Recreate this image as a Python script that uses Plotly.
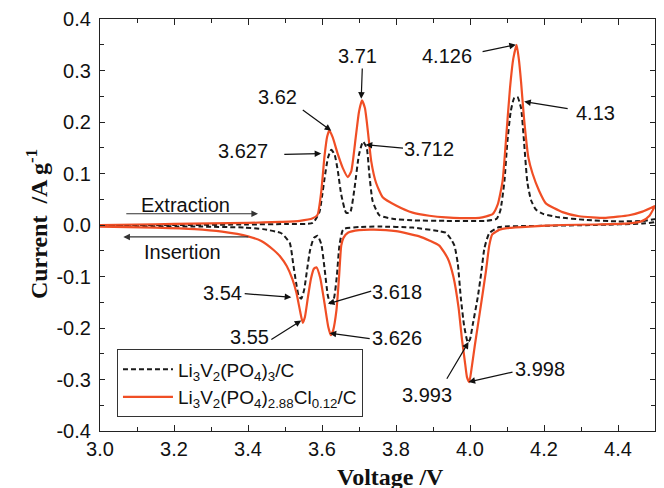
import plotly.graph_objects as go

# ---------------- data ----------------
# Li3V2(PO4)3/C  - anodic (forward) branch
lvp_up_v = [3.00, 3.20, 3.40, 3.50, 3.575, 3.593, 3.600, 3.607, 3.616, 3.625, 3.634, 3.643,
            3.652, 3.665, 3.676, 3.688, 3.700, 3.711, 3.721, 3.728, 3.737, 3.755, 3.791,
            3.850, 3.935, 4.043, 4.072, 4.082, 4.093, 4.101, 4.110, 4.119, 4.128, 4.138,
            4.146, 4.155, 4.165, 4.178, 4.196, 4.240, 4.310, 4.400, 4.470, 4.500]
lvp_up_i = [0.000, 0.000, 0.001, 0.002, 0.004, 0.025, 0.055, 0.091, 0.130, 0.146, 0.137, 0.104,
            0.059, 0.024, 0.024, 0.072, 0.137, 0.162, 0.149, 0.098, 0.046, 0.019, 0.012,
            0.009, 0.008, 0.008, 0.012, 0.028, 0.085, 0.162, 0.220, 0.246, 0.249, 0.227,
            0.162, 0.083, 0.048, 0.030, 0.022, 0.015, 0.010, 0.007, 0.008, 0.011]
# Li3V2(PO4)3/C  - cathodic (reverse) branch
lvp_dn_v = [4.500, 4.466, 4.340, 4.160, 4.079, 4.052, 4.039, 4.030, 4.021, 4.007, 4.000, 3.994,
            3.984, 3.975, 3.967, 3.958, 3.949, 3.935, 3.917, 3.845, 3.755, 3.700, 3.661,
            3.655, 3.647, 3.640, 3.632, 3.623, 3.616, 3.607, 3.598, 3.588, 3.578, 3.568,
            3.560, 3.552, 3.544, 3.537, 3.530, 3.522, 3.513, 3.490, 3.440, 3.390, 3.270, 3.000]
lvp_dn_i = [0.006, 0.003, 0.000, -0.002, -0.004, -0.016, -0.045, -0.095, -0.140, -0.195, -0.222, -0.228,
            -0.195, -0.140, -0.075, -0.040, -0.028, -0.015, -0.012, -0.005, -0.003, -0.004, -0.007,
            -0.012, -0.040, -0.100, -0.143, -0.152, -0.138, -0.085, -0.037, -0.021, -0.025, -0.048,
            -0.085, -0.125, -0.143, -0.138, -0.112, -0.075, -0.035, -0.016, -0.008, -0.005, -0.003, -0.002]

# Li3V2(PO4)2.88Cl0.12/C - anodic branch
cl_up_v = [3.00, 3.10, 3.20, 3.30, 3.40, 3.486, 3.540, 3.575, 3.588, 3.598, 3.607, 3.614,
           3.620, 3.629, 3.643, 3.656, 3.670, 3.679, 3.691, 3.700, 3.708, 3.716, 3.724,
           3.733, 3.746, 3.764, 3.800, 3.845, 3.890, 3.935, 4.025, 4.061, 4.075, 4.088,
           4.099, 4.108, 4.117, 4.126, 4.132, 4.138, 4.146, 4.158, 4.169, 4.187, 4.205,
           4.250, 4.295, 4.367, 4.430, 4.466, 4.500]
cl_up_i = [0.000, 0.001, 0.002, 0.003, 0.004, 0.006, 0.008, 0.013, 0.020, 0.065, 0.135, 0.172,
           0.184, 0.170, 0.137, 0.111, 0.093, 0.104, 0.169, 0.220, 0.242, 0.227, 0.182,
           0.124, 0.082, 0.054, 0.038, 0.024, 0.018, 0.015, 0.014, 0.021, 0.040, 0.085,
           0.182, 0.265, 0.323, 0.350, 0.322, 0.278, 0.207, 0.130, 0.100, 0.066, 0.042,
           0.025, 0.017, 0.014, 0.019, 0.026, 0.037]
# Li3V2(PO4)2.88Cl0.12/C - cathodic branch
cl_dn_v = [4.500, 4.485, 4.466, 4.430, 4.340, 4.250, 4.160, 4.100, 4.080, 4.066, 4.060, 4.052,
           4.043, 4.028, 4.013, 4.004, 3.998, 3.992, 3.987, 3.978, 3.969, 3.955, 3.940,
           3.917, 3.890, 3.863, 3.800, 3.740, 3.700, 3.670, 3.658, 3.652, 3.646, 3.639,
           3.630, 3.624, 3.617, 3.607, 3.595, 3.585, 3.578, 3.570, 3.562, 3.554, 3.548,
           3.541, 3.531, 3.520, 3.505, 3.488, 3.470, 3.436, 3.400, 3.330, 3.256, 3.150, 3.000]
cl_dn_i = [0.037, 0.018, 0.008, 0.003, 0.001, 0.000, -0.003, -0.006, -0.009, -0.015, -0.018, -0.040,
           -0.090, -0.163, -0.234, -0.280, -0.305, -0.296, -0.270, -0.220, -0.160, -0.100, -0.065,
           -0.040, -0.030, -0.022, -0.012, -0.009, -0.010, -0.015, -0.025, -0.040, -0.102, -0.166,
           -0.205, -0.214, -0.198, -0.153, -0.102, -0.082, -0.085, -0.105, -0.140, -0.178, -0.190,
           -0.168, -0.132, -0.105, -0.080, -0.062, -0.049, -0.031, -0.022, -0.013, -0.008, -0.005, -0.003]

series_names = ["Li<sub>3</sub>V<sub>2</sub>(PO<sub>4</sub>)<sub>3</sub>/C",
                "Li<sub>3</sub>V<sub>2</sub>(PO<sub>4</sub>)<sub>2.88</sub>Cl<sub>0.12</sub>/C"]

x_tickvals = [3.0, 3.2, 3.4, 3.6, 3.8, 4.0, 4.2, 4.4]
x_ticktext = ["3.0", "3.2", "3.4", "3.6", "3.8", "4.0", "4.2", "4.4"]
y_tickvals = [-0.4, -0.3, -0.2, -0.1, 0.0, 0.1, 0.2, 0.3, 0.4]
y_ticktext = ["-0.4", "-0.3", "-0.2", "-0.1", "0.0", "0.1", "0.2", "0.3", "0.4"]

# peak labels: text, text position (V, I), arrow tail (V, I), arrow head (V, I)
peak_labels = ["3.62", "3.71", "3.627", "3.712", "4.126", "4.13",
               "3.54", "3.55", "3.618", "3.626", "3.993", "3.998"]
label_v = [3.480, 3.695, 3.386, 3.890, 3.937, 4.339, 3.330, 3.403, 3.804, 3.804, 3.885, 4.188]
label_i = [0.249, 0.329, 0.143, 0.147, 0.329, 0.217, -0.132, -0.218, -0.131, -0.219, -0.330, -0.279]
tail_v = [3.544, 3.709, 3.494, 3.823, 4.030, 4.268, 3.387, 3.459, 3.737, 3.733, 3.935, 4.119]
tail_i = [0.2255, 0.307, 0.137, 0.149, 0.336, 0.2255, -0.133, -0.224, -0.1275, -0.221, -0.3015, -0.285]
head_v = [3.625, 3.706, 3.598, 3.718, 4.124, 4.1465, 3.517, 3.544, 3.616, 3.6205, 3.996, 3.996]
head_i = [0.183, 0.245, 0.1386, 0.156, 0.350, 0.2396, -0.1405, -0.1855, -0.153, -0.210, -0.2274, -0.3047]

direction_labels = ["Extraction", "Insertion"]
dir_label_v = [3.230, 3.222]
dir_label_i = [0.0395, -0.0515]
dir_tail_v = [3.067, 3.405]
dir_tail_i = [0.0218, -0.0232]
dir_head_v = [3.427, 3.063]
dir_head_i = [0.0218, -0.0232]

# ---------------- figure ----------------
RED = "#F04E25"
SANS = "Liberation Sans, Arial, sans-serif"
SERIF = "Liberation Serif, Times New Roman, serif"

fig = go.Figure()
fig.add_trace(go.Scatter(
    x=lvp_up_v + lvp_dn_v, y=lvp_up_i + lvp_dn_i, mode="lines", name=series_names[0],
    line=dict(color="#1a1a1a", width=2, dash="5px,3px", shape="spline", smoothing=0.5)))
fig.add_trace(go.Scatter(
    x=cl_up_v + cl_dn_v, y=cl_up_i + cl_dn_i, mode="lines", name=series_names[1],
    line=dict(color=RED, width=2.2, shape="spline", smoothing=0.5)))

annotations = []
for t, lv, li, tv, ti, hv, hi in zip(peak_labels, label_v, label_i, tail_v, tail_i, head_v, head_i):
    annotations.append(dict(x=lv, y=li, text=t, showarrow=False,
                            font=dict(family=SANS, size=20, color="#111")))
    annotations.append(dict(x=hv, y=hi, ax=tv, ay=ti, axref="x", ayref="y", text="",
                            showarrow=True, arrowhead=2, arrowsize=1.1, arrowwidth=1.2,
                            arrowcolor="#111", standoff=0, startstandoff=0))
for t, lv, li, tv, ti, hv, hi in zip(direction_labels, dir_label_v, dir_label_i,
                                     dir_tail_v, dir_tail_i, dir_head_v, dir_head_i):
    annotations.append(dict(x=lv, y=li, text=t, showarrow=False,
                            font=dict(family=SANS, size=20, color="#111")))
    annotations.append(dict(x=hv, y=hi, ax=tv, ay=ti, axref="x", ayref="y", text="",
                            showarrow=True, arrowhead=2, arrowsize=1.1, arrowwidth=1.2,
                            arrowcolor="#333", standoff=0, startstandoff=0))

# axis titles as annotations for exact placement
annotations.append(dict(xref="paper", yref="paper", x=(391 - 100) / 556, y=-(477 - 431) / 414,
                        text="Voltage /V", showarrow=False, yanchor="middle",
                        font=dict(family=SERIF, size=24, color="#111", weight="bold")))
annotations.append(dict(xref="paper", yref="paper", x=(37 - 100) / 556, y=(431 - 223) / 414,
                        text="Current  /A g<sup>-1</sup>", showarrow=False, textangle=-90,
                        xanchor="center", yanchor="middle",
                        font=dict(family=SERIF, size=24, color="#111", weight="bold")))

axis_common = dict(showline=True, linecolor="#222", linewidth=1.3, mirror="ticks",
                   ticks="inside", tickcolor="#222", showgrid=False, zeroline=False,
                   tickfont=dict(family=SANS, size=20, color="#111"))

fig.update_layout(
    width=664, height=488,
    margin=dict(l=100, r=8, t=17, b=57),
    paper_bgcolor="white", plot_bgcolor="white",
    showlegend=True,
    legend=dict(x=17 / 556, y=(431 - 349) / 414, xanchor="left", yanchor="top",
                bgcolor="white", bordercolor="#333", borderwidth=1,
                font=dict(family=SANS, size=19, color="#111"),
                itemwidth=50, tracegroupgap=0),
    annotations=annotations,
    xaxis=dict(range=[3.0, 4.5], tickvals=x_tickvals, ticktext=x_ticktext, ticklen=6,
               ticklabelstandoff=0,
               minor=dict(dtick=0.1, tick0=3.0, ticks="inside", ticklen=4, tickcolor="#222"),
               **axis_common),
    yaxis=dict(range=[-0.4, 0.4], tickvals=y_tickvals, ticktext=y_ticktext, ticklen=5,
               ticklabelstandoff=4,
               minor=dict(dtick=0.05, tick0=0, ticks="inside", ticklen=4, tickcolor="#222"),
               **axis_common),
)

fig.write_html("out.html")
